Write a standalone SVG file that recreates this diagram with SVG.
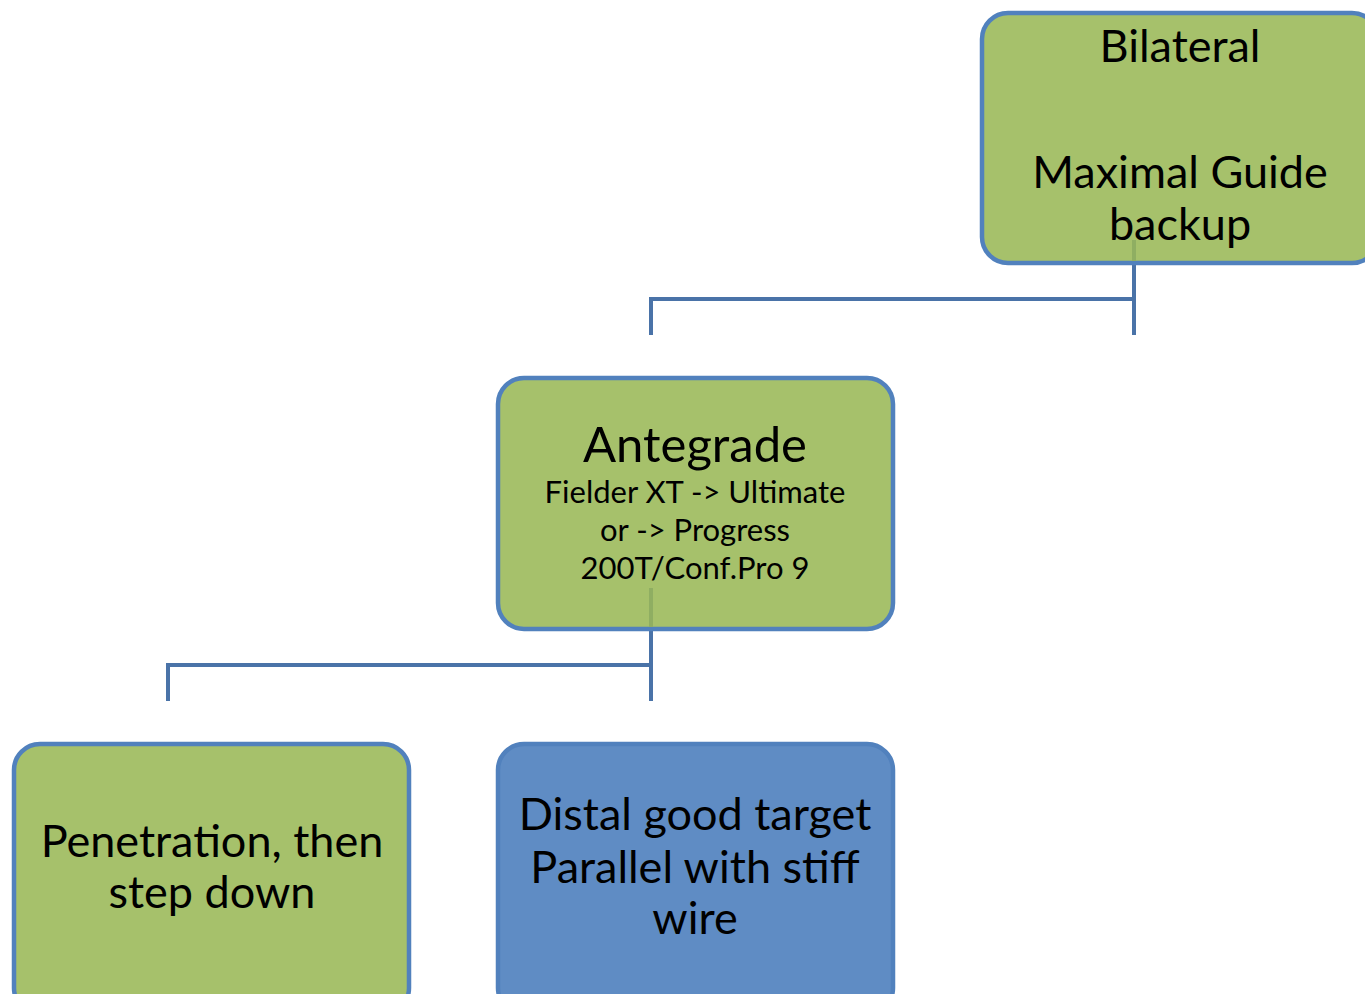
<svg xmlns="http://www.w3.org/2000/svg" width="1365" height="994" viewBox="0 0 1365 994">
<style>
.box{stroke:#5181BD;stroke-width:4.5}
.g{fill:#A6C16B}
.b{fill:#5F8CC4}
.t{font-family:Lato,"Liberation Sans",sans-serif;fill:#000;text-anchor:middle}
.big{font-size:45px}
.med{font-size:49px}
.sm{font-size:31px}
.conn{stroke:#4A73A8;stroke-width:4;fill:none}
.inner{stroke:#8FAE62;stroke-width:4}
</style>
<rect width="1365" height="994" fill="#fff"/>
<g id="connectors">
<polyline class="conn" points="1134,263 1134,335"/>
<polyline class="conn" points="651,335 651,299 1134,299"/>
<polyline class="conn" points="651,629 651,701"/>
<polyline class="conn" points="168,701 168,665 651,665"/>
</g>
<g id="bilateral">
<rect class="box g" x="982" y="13" width="396" height="250" rx="26"/>
<line class="inner" x1="1134" y1="240" x2="1134" y2="261"/>
<text class="t big" x="1180" y="62">Bilateral</text>
<text class="t big" x="1180" y="188">Maximal Guide</text>
<text class="t big" x="1180" y="240">backup</text>
</g>
<g id="antegrade">
<rect class="box g" x="498" y="378" width="395" height="251" rx="26"/>
<line class="inner" x1="651" y1="588" x2="651" y2="627"/>
<text class="t med" x="695" y="462">Antegrade</text>
<text class="t sm" x="695" y="503">Fielder XT -&gt; Ultimate</text>
<text class="t sm" x="695" y="541">or -&gt; Progress</text>
<text class="t sm" x="695" y="579">200T/Conf.Pro 9</text>
</g>
<g id="penetration">
<rect class="box g" x="14" y="744" width="395" height="270" rx="26"/>
<text class="t big" x="212" y="857">Penetration, then</text>
<text class="t big" x="212" y="908">step down</text>
</g>
<g id="distal">
<rect class="box b" x="498" y="744" width="395" height="270" rx="26"/>
<text class="t big" x="695" y="830">Distal good target</text>
<text class="t big" x="695" y="883">Parallel with stiff</text>
<text class="t big" x="695" y="934">wire</text>
</g>
</svg>
